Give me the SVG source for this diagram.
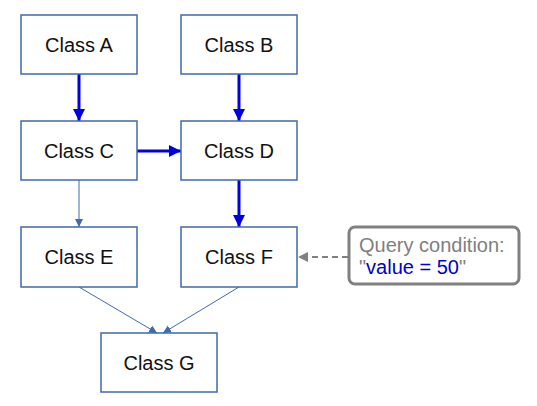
<svg xmlns="http://www.w3.org/2000/svg" width="537" height="406" viewBox="0 0 537 406">
<style>
.box{fill:#fff;stroke:#3f6aad;stroke-width:1.5}
.lbl{font-family:"Liberation Sans",Arial,sans-serif;font-size:20px;fill:#111;text-anchor:middle}
.thick{stroke:#0000dd;stroke-width:3;fill:none}
.thin{stroke:#3f6aad;stroke-width:1;fill:none}
.dash{stroke:#808080;stroke-width:2;stroke-dasharray:6 4;fill:none}
.q{font-family:"Liberation Sans",Arial,sans-serif;font-size:20px;fill:#808080}
</style>
<defs>
<marker id="mThick" markerUnits="userSpaceOnUse" markerWidth="14" markerHeight="14" refX="12" refY="6" orient="auto">
<path d="M0,0 L12,6 L0,12 Z" fill="#0000dd"/>
</marker>
<marker id="mThin" markerUnits="userSpaceOnUse" markerWidth="10" markerHeight="10" refX="8" refY="4" orient="auto">
<path d="M0,0 L8,4 L0,8 Z" fill="#3f6aad"/>
</marker>
<marker id="mGray" markerUnits="userSpaceOnUse" markerWidth="12" markerHeight="12" refX="10" refY="5" orient="auto">
<path d="M0,0 L10,5 L0,10 Z" fill="#808080"/>
</marker>
</defs>
<g id="connectors">
<line class="thick" x1="79" y1="74" x2="79" y2="121" marker-end="url(#mThick)"/>
<line class="thick" x1="239" y1="74" x2="239" y2="121" marker-end="url(#mThick)"/>
<line class="thick" x1="137" y1="151" x2="181" y2="151" marker-end="url(#mThick)"/>
<line class="thick" x1="239" y1="180" x2="239" y2="227" marker-end="url(#mThick)"/>
<line class="thin" x1="79" y1="180" x2="79" y2="227" marker-end="url(#mThin)"/>
<line class="thin" x1="79" y1="287" x2="157" y2="333" marker-end="url(#mThin)"/>
<line class="thin" x1="239" y1="287" x2="163" y2="333" marker-end="url(#mThin)"/>
<line class="dash" x1="348" y1="257" x2="298" y2="257" marker-end="url(#mGray)"/>
</g>
<g id="classA"><rect class="box" x="21" y="15" width="116" height="59"/><text class="lbl" x="79" y="52">Class A</text></g>
<g id="classB"><rect class="box" x="181" y="15" width="116" height="59"/><text class="lbl" x="239" y="52">Class B</text></g>
<g id="classC"><rect class="box" x="21" y="121" width="116" height="59"/><text class="lbl" x="79" y="158">Class C</text></g>
<g id="classD"><rect class="box" x="181" y="121" width="116" height="59"/><text class="lbl" x="239" y="158">Class D</text></g>
<g id="classE"><rect class="box" x="21" y="227" width="116" height="60"/><text class="lbl" x="79" y="264">Class E</text></g>
<g id="classF"><rect class="box" x="181" y="227" width="116" height="60"/><text class="lbl" x="239" y="264">Class F</text></g>
<g id="classG"><rect class="box" x="101" y="333" width="116" height="59"/><text class="lbl" x="159" y="370">Class G</text></g>
<g id="query">
<rect x="349" y="227" width="170" height="57" rx="6" fill="#fff" stroke="#808080" stroke-width="3"/>
<text class="q" x="359" y="252">Query condition:</text>
<text class="q" x="359" y="274">"<tspan fill="#0000cc">value = 50</tspan>"</text>
</g>
</svg>
